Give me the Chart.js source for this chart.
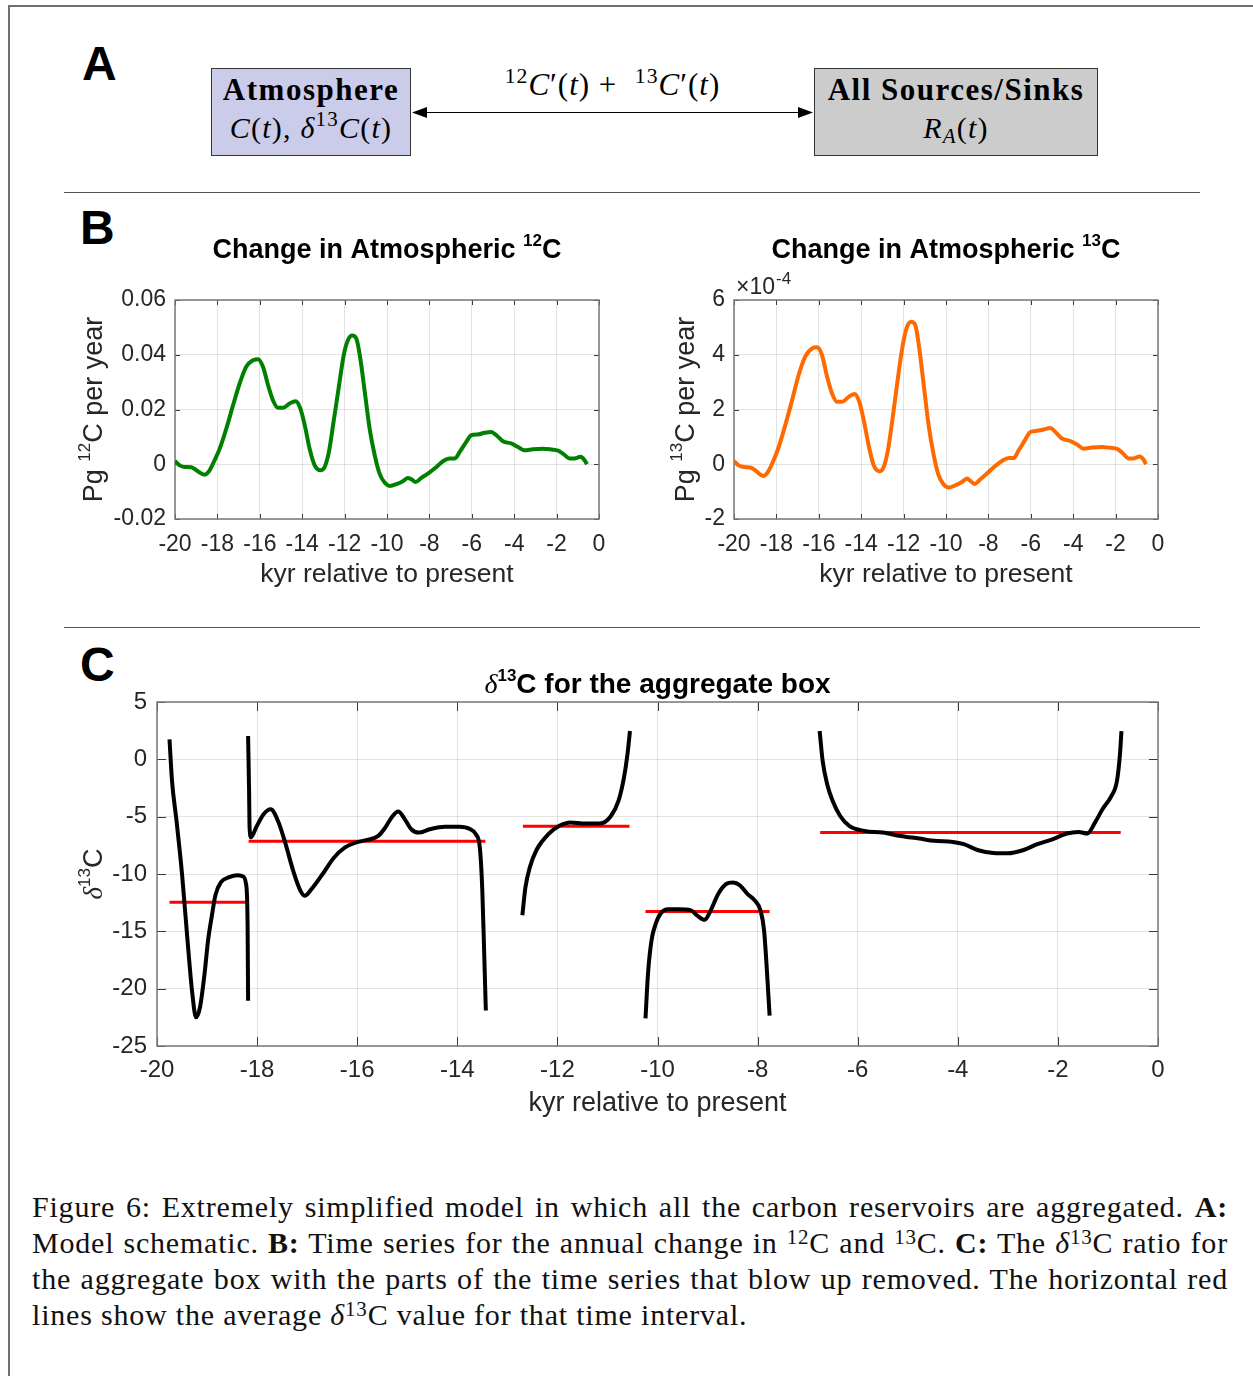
<!DOCTYPE html>
<html>
<head>
<meta charset="utf-8">
<script src="https://cdn.jsdelivr.net/npm/chart.js@4.4.0/dist/chart.umd.min.js"></script>
<style>
  html, body { margin: 0; padding: 0; background: #fff; }
  #page { position: relative; width: 1253px; height: 1376px; overflow: hidden; background: #fff; font-family: 'Liberation Sans', Arial, sans-serif; }
  .frame { position: absolute; left: 8px; top: 5px; width: 1300px; height: 1400px; border-top: 2px solid #707070; border-left: 2px solid #707070; }
  .rule { position: absolute; left: 64px; width: 1136px; height: 0; border-top: 1.5px solid #555; }
  .letter { position: absolute; font: bold 48px/48px 'Liberation Sans', Arial, sans-serif; color: #000; }
  .box { position: absolute; top: 68px; height: 88px; border: 1px solid #333; box-sizing: border-box; font-family: 'Liberation Serif', serif; color: #000; }
  .box .l1 { position: absolute; left: 0; right: 0; top: 4px; text-align: center; font-weight: bold; font-size: 31px; line-height: 34px; letter-spacing: 1.5px; }
  .box .l2 { position: absolute; left: 0; right: 0; top: 42px; text-align: center; font-size: 30px; line-height: 34px; letter-spacing: 1.2px; }
  .math { font-family: 'Liberation Serif', serif; }
  .math sup { font-size: 0.7em; vertical-align: 0.55em; line-height: 0; font-style: normal; }
  .math sub { font-size: 0.7em; vertical-align: -0.25em; line-height: 0; }
  #flux { position: absolute; left: 412px; width: 401px; top: 68px; text-align: center; font-size: 31px; line-height: 34px; letter-spacing: 1px; }
  #arrow { position: absolute; left: 410px; top: 102px; }
  .chart { position: absolute; }
  .chart canvas { display: block; }
  #caption { position: absolute; left: 32px; top: 1189px; width: 1196px; font-family: 'Liberation Serif', serif; font-size: 30px; letter-spacing: 0.8px; color: #111; }
  #caption div { height: 36px; line-height: 36px; white-space: nowrap; }
  #caption .j { text-align: justify; text-align-last: justify; }
  #caption sup { font-size: 0.7em; vertical-align: 0.45em; line-height: 0; }
</style>
</head>
<body>
<div id="page">
  <div class="frame"></div>

  <!-- panel A: schematic -->
  <div class="letter" style="left:82px; top:40px;">A</div>
  <div class="box" style="left:211px; width:200px; background:#cbcbea;">
    <div class="l1">Atmosphere</div>
    <div class="l2 math"><i>C</i>(<i>t</i>), <i>δ</i><sup>13</sup><i>C</i>(<i>t</i>)</div>
  </div>
  <div class="box" style="left:814px; width:284px; background:#cccccc;">
    <div class="l1">All Sources/Sinks</div>
    <div class="l2 math"><i>R</i><sub><i>A</i></sub>(<i>t</i>)</div>
  </div>
  <div id="flux" class="math"><sup>12</sup><i>C</i>′(<i>t</i>) + &nbsp;<sup>13</sup><i>C</i>′(<i>t</i>)</div>
  <svg id="arrow" width="406" height="22" viewBox="0 0 406 22">
    <line x1="14" y1="10.5" x2="390" y2="10.5" stroke="#000" stroke-width="1.2"/>
    <polygon points="2,10.5 17,5 17,16" fill="#000"/>
    <polygon points="403,10.5 388,5 388,16" fill="#000"/>
  </svg>

  <div class="rule" style="top:192px;"></div>

  <!-- panel B -->
  <div class="letter" style="left:80px; top:204px;">B</div>
  <div class="chart" style="left:60px; top:220px;"><canvas id="c12" width="560" height="380" style="width:560px;height:380px;"></canvas></div>
  <div class="chart" style="left:620px; top:220px;"><canvas id="c13" width="560" height="380" style="width:560px;height:380px;"></canvas></div>

  <div class="rule" style="top:627px;"></div>

  <!-- panel C -->
  <div class="letter" style="left:80px; top:641px;">C</div>
  <div class="chart" style="left:60px; top:655px;"><canvas id="cDelta" width="1140" height="470" style="width:1140px;height:470px;"></canvas></div>

  <div id="caption">
    <div class="j">Figure 6: Extremely simplified model in which all the carbon reservoirs are aggregated. <b>A:</b></div>
    <div class="j">Model schematic. <b>B:</b> Time series for the annual change in <sup>12</sup>C and <sup>13</sup>C. <b>C:</b> The <i>δ</i><sup>13</sup>C ratio for</div>
    <div class="j">the aggregate box with the parts of the time series that blow up removed. The horizontal red</div>
    <div>lines show the average <i>δ</i><sup>13</sup>C value for that time interval.</div>
  </div>
</div>

<script>
// --- panel B data: annual change in atmospheric 12C and 13C ---
const kyrB = [-20, -19.78, -19.54, -19.23, -18.99, -18.76, -18.6, -18.4, -18.13, -17.89,
  -17.58, -17.26, -16.95, -16.64, -16.32, -16.08, -15.85, -15.61, -15.38, -15.14,
  -14.91, -14.59, -14.31, -14.09, -13.88, -13.65, -13.41, -13.14, -12.94, -12.74,
  -12.52, -12.26, -12.04, -11.84, -11.64, -11.45, -11.26, -11.05, -10.82, -10.58,
  -10.35, -10.11, -9.87, -9.56, -9.25, -9.01, -8.85, -8.65, -8.38, -8.07,
  -7.67, -7.36, -7.04, -6.81, -6.57, -6.26, -6.02, -5.71, -5.39, -5.08,
  -4.84, -4.53, -4.14, -3.82, -3.51, -3.11, -2.64, -2.25, -1.93, -1.7,
  -1.38, -1.15, -0.88, -0.68, -0.57];

// Pg 12C per year
const d12C = [0.0012, -0.0004, -0.001, -0.0011, -0.0022, -0.0034, -0.0038, -0.0026, 0.0015, 0.0057,
  0.013, 0.0216, 0.0295, 0.0356, 0.038, 0.0384, 0.0356, 0.0289, 0.0234, 0.0206,
  0.0206, 0.0222, 0.023, 0.0204, 0.0143, 0.0057, -0.0004, -0.0022, -0.001, 0.0045,
  0.0155, 0.0289, 0.0399, 0.0454, 0.047, 0.046, 0.0387, 0.0265, 0.013, 0.0033,
  -0.0034, -0.0067, -0.0079, -0.0073, -0.0062, -0.005, -0.0055, -0.0065, -0.005, -0.0034,
  -0.001, 0.0011, 0.0021, 0.0021, 0.0045, 0.0082, 0.0106, 0.0109, 0.0115, 0.0118,
  0.0106, 0.0084, 0.0076, 0.0063, 0.0051, 0.0055, 0.0057, 0.0054, 0.005, 0.0039,
  0.0021, 0.0021, 0.0027, 0.0015, 0.0];

// Pg 13C per year, in units of 1e-4
const d13C = [0.12, -0.04, -0.1, -0.12, -0.22, -0.38, -0.43, -0.28, 0.15, 0.63,
  1.43, 2.34, 3.26, 3.93, 4.23, 4.27, 3.99, 3.2, 2.59, 2.28,
  2.28, 2.46, 2.57, 2.28, 1.61, 0.7, -0.04, -0.26, -0.1, 0.51,
  1.67, 3.2, 4.35, 5.02, 5.21, 5.09, 4.23, 2.89, 1.43, 0.33,
  -0.4, -0.74, -0.85, -0.77, -0.65, -0.52, -0.61, -0.72, -0.55, -0.34,
  -0.06, 0.12, 0.23, 0.23, 0.51, 0.9, 1.18, 1.22, 1.27, 1.32,
  1.18, 0.94, 0.85, 0.72, 0.57, 0.61, 0.63, 0.6, 0.56, 0.43,
  0.21, 0.21, 0.28, 0.17, 0.0];

const xTicksB = [-20, -18, -16, -14, -12, -10, -8, -6, -4, -2, 0];
const yTicks12 = [-0.02, 0, 0.02, 0.04, 0.06];
const yTicks13 = [-2, 0, 2, 4, 6];

// --- panel C data: delta13C pieces (kyr, permil) ---
const deltaSeg1 = [[-19.75, 1.74], [-19.7, -1.89], [-19.61, -5.37], [-19.5, -10.0], [-19.39, -15.8],
  [-19.3, -20.2], [-19.22, -22.5], [-19.14, -21.6],
  [-19.05, -18.7], [-18.98, -15.8], [-18.91, -13.8], [-18.83, -11.8], [-18.72, -10.7],
  [-18.57, -10.3], [-18.39, -10.1], [-18.28, -10.2], [-18.22, -10.9], [-18.19, -14.4], [-18.18, -21.05]];
const deltaSeg2 = [[-18.18, 2.03], [-18.16, -2.76], [-18.15, -5.95], [-18.12, -6.8], [-18.02, -5.95],
  [-17.87, -4.79], [-17.73, -4.36], [-17.58, -5.4], [-17.43, -7.4], [-17.28, -9.7],
  [-17.13, -11.5], [-17.05, -11.9], [-16.91, -11.3], [-16.69, -10.0], [-16.47, -8.6],
  [-16.25, -7.7], [-16.03, -7.26], [-15.8, -7.03], [-15.58, -6.68], [-15.44, -5.95],
  [-15.29, -4.94], [-15.18, -4.56], [-15.07, -5.08], [-14.92, -6.1], [-14.77, -6.39],
  [-14.55, -6.1], [-14.25, -5.89], [-13.96, -5.89], [-13.74, -6.1], [-13.63, -6.53],
  [-13.55, -7.69], [-13.5, -11.47], [-13.46, -17.3], [-13.43, -21.9]];
const deltaSeg3 = [[-12.7, -13.6], [-12.64, -11.2], [-12.55, -9.4], [-12.41, -7.84], [-12.18, -6.53],
  [-11.96, -5.8], [-11.74, -5.5], [-11.45, -5.6], [-11.15, -5.6], [-10.93, -4.94],
  [-10.78, -3.63], [-10.67, -1.6], [-10.6, 0.44], [-10.55, 2.47]];
const deltaSeg4 = [[-10.24, -22.6], [-10.19, -18.7], [-10.12, -15.8], [-10.04, -14.4], [-9.93, -13.4],
  [-9.79, -13.07], [-9.56, -13.07], [-9.34, -13.15], [-9.2, -13.65], [-9.06, -14.0],
  [-8.94, -13.2], [-8.79, -11.76], [-8.64, -10.9], [-8.49, -10.74], [-8.35, -11.0],
  [-8.2, -11.76], [-8.05, -12.34], [-7.94, -13.2], [-7.87, -14.95], [-7.81, -18.7], [-7.76, -22.36]];
const deltaSeg5 = [[-6.76, 2.47], [-6.7, -0.15], [-6.61, -2.18], [-6.5, -3.63], [-6.35, -4.94],
  [-6.17, -5.8], [-5.87, -6.24], [-5.5, -6.39], [-5.14, -6.68], [-4.77, -6.91],
  [-4.47, -7.11], [-4.1, -7.2], [-3.88, -7.4], [-3.59, -7.93], [-3.29, -8.16],
  [-3.0, -8.19], [-2.7, -7.93], [-2.41, -7.4], [-2.11, -6.97], [-1.82, -6.47],
  [-1.59, -6.33], [-1.41, -6.47], [-1.26, -5.52], [-1.11, -4.36], [-0.93, -3.19],
  [-0.82, -1.89], [-0.76, 0.44], [-0.73, 2.47]];

// average delta13C for each interval
const meanStart = [-19.75, -18.17, -12.69, -10.24, -6.75];
const meanEnd   = [-18.2, -13.44, -10.56, -7.76, -0.745];
const meanValue = [-12.46, -7.14, -5.84, -13.27, -6.39];

const xTicksC = [-20, -18, -16, -14, -12, -10, -8, -6, -4, -2, 0];
const yTicksC = [-25, -20, -15, -10, -5, 0, 5];

const tickColor = '#262626';
const gridColor = 'rgba(38,38,38,0.13)';
const fontFamily = '"Liberation Sans", Arial, sans-serif';
const serifFamily = '"Liberation Serif", serif';

// MATLAB-style box with inward ticks on all four sides
const boxTicks = {
  id: 'boxTicks',
  beforeDatasetsDraw(chart, args, opts) {
    const { ctx, chartArea: a, scales } = chart;
    const len = opts.length || 5;
    ctx.save();
    ctx.strokeStyle = '#3a3a3a';
    ctx.lineWidth = 1;
    ctx.beginPath();
    scales.x.ticks.forEach(t => {
      const px = Math.round(scales.x.getPixelForValue(t.value)) + 0.5;
      ctx.moveTo(px, a.bottom); ctx.lineTo(px, a.bottom - len);
      ctx.moveTo(px, a.top); ctx.lineTo(px, a.top + len);
    });
    scales.y.ticks.forEach(t => {
      const py = Math.round(scales.y.getPixelForValue(t.value)) + 0.5;
      ctx.moveTo(a.left, py); ctx.lineTo(a.left + len, py);
      ctx.moveTo(a.right, py); ctx.lineTo(a.right - len, py);
    });
    ctx.stroke();
    ctx.strokeStyle = '#7a7a7a';
    ctx.lineWidth = 1.5;
    ctx.strokeRect(a.left, a.top, a.right - a.left, a.bottom - a.top);
    ctx.restore();
  }
};

// text with superscripts, centred on (cx, cy) with the cap-height centre on cy
function drawRich(ctx, parts, cx, cy, rot, base) {
  ctx.save();
  ctx.translate(cx, cy);
  ctx.rotate(rot);
  ctx.fillStyle = base.color;
  ctx.textBaseline = 'alphabetic';
  ctx.textAlign = 'left';
  const fontOf = p => (p.italic ? 'italic ' : '') + (p.weight || base.weight || 'normal') + ' ' +
    (p.sup ? Math.round(base.size * 0.62) : base.size) + 'px ' + (p.family || base.family);
  let total = 0;
  const widths = parts.map(p => { ctx.font = fontOf(p); const w = ctx.measureText(p.t).width; total += w; return w; });
  let x = -total / 2;
  const baseY = base.size * 0.365;
  parts.forEach((p, i) => {
    ctx.font = fontOf(p);
    ctx.fillText(p.t, x, p.sup ? baseY - base.size * 0.45 : baseY);
    x += widths[i];
  });
  ctx.restore();
}

function titlesPlugin(cfg) {
  return {
    id: 'richTitles',
    afterDraw(chart) {
      const { ctx, chartArea: a } = chart;
      drawRich(ctx, cfg.title, (a.left + a.right) / 2, cfg.titleY, 0,
        { size: cfg.titleSize, weight: 'bold', family: fontFamily, color: '#000' });
      drawRich(ctx, cfg.yTitle, cfg.yTitleX, (a.top + a.bottom) / 2, -Math.PI / 2,
        { size: 27, weight: 'normal', family: fontFamily, color: tickColor });
    }
  };
}

// the "x10^-4" multiplier above the 13C axis
const expLabel = {
  id: 'expLabel',
  afterDraw(chart) {
    const { ctx, chartArea: a } = chart;
    ctx.save();
    ctx.fillStyle = '#262626';
    ctx.textBaseline = 'alphabetic';
    ctx.font = '23px ' + fontFamily;
    const base = a.top - 6;
    ctx.fillText('×10', a.left + 2, base);
    const w = ctx.measureText('×10').width;
    ctx.font = '17px ' + fontFamily;
    ctx.fillText('-4', a.left + 2 + w + 1, base - 10);
    ctx.restore();
  }
};

function fixedTicks(values) {
  return scale => { scale.ticks = values.map(v => ({ value: v })); };
}

function panelB(id, xs, ys, color, yTicks, yFmt, iso, yTitleX, rightPad, yWidth, extraPlugins) {
  return new Chart(document.getElementById(id), {
    type: 'line',
    data: {
      datasets: [{
        data: xs.map((x, i) => ({ x: x, y: ys[i] })),
        borderColor: color,
        borderWidth: 4,
        pointRadius: 0,
        fill: false,
        cubicInterpolationMode: 'monotone'
      }]
    },
    options: {
      responsive: false,
      animation: false,
      devicePixelRatio: 1,
      layout: { padding: { left: 0, top: 80, right: rightPad, bottom: 0 } },
      plugins: {
        legend: { display: false },
        tooltip: { enabled: false },
        title: { display: false },
        boxTicks: { length: 5 }
      },
      scales: {
        x: {
          type: 'linear', min: -20, max: 0,
          afterBuildTicks: fixedTicks(xTicksB),
          afterFit: s => { s.height = 81; },
          grid: { color: gridColor, drawTicks: false },
          border: { display: false },
          ticks: { color: tickColor, padding: 12, maxRotation: 0, autoSkip: false, font: { family: fontFamily, size: 23 } },
          title: { display: true, text: 'kyr relative to present', color: tickColor, font: { family: fontFamily, size: 26.5 }, padding: { top: 0, bottom: 9.2 } }
        },
        y: {
          type: 'linear', min: yTicks[0], max: yTicks[yTicks.length - 1],
          afterBuildTicks: fixedTicks(yTicks),
          afterFit: s => { s.width = yWidth; },
          grid: { color: gridColor, drawTicks: false },
          border: { display: false },
          ticks: { color: tickColor, padding: 9, autoSkip: false, font: { family: fontFamily, size: 23 }, callback: yFmt },
          title: { display: false }
        }
      }
    },
    plugins: [boxTicks, titlesPlugin({
      title: [{ t: 'Change in Atmospheric ' }, { t: iso, sup: true }, { t: 'C' }],
      titleY: 28,
      titleSize: 27,
      yTitle: [{ t: 'Pg ' }, { t: iso, sup: true }, { t: 'C per year' }],
      yTitleX: yTitleX
    })].concat(extraPlugins)
  });
}

panelB('c12', kyrB, d12C, '#008000', yTicks12,
  v => { const r = Math.round(v * 100) / 100; return r === 0 ? '0' : r.toFixed(2); },
  '12', 32, 21, 115, []);

panelB('c13', kyrB, d13C, '#ff6a00', yTicks13,
  v => String(Math.round(v)),
  '13', 64, 22, 114, [expLabel]);

// panel C
const blackSegs = [deltaSeg1, deltaSeg2, deltaSeg3, deltaSeg4, deltaSeg5].map(seg => ({
  data: seg.map(p => ({ x: p[0], y: p[1] })),
  borderColor: '#000',
  borderWidth: 4,
  pointRadius: 0,
  fill: false,
  cubicInterpolationMode: 'monotone'
}));
const meanLines = meanValue.map((v, i) => ({
  data: [{ x: meanStart[i], y: v }, { x: meanEnd[i], y: v }],
  borderColor: '#ff0000',
  borderWidth: 3,
  pointRadius: 0,
  fill: false
}));

new Chart(document.getElementById('cDelta'), {
  type: 'line',
  data: { datasets: blackSegs.concat(meanLines) },
  options: {
    responsive: false,
    animation: false,
    devicePixelRatio: 1,
    layout: { padding: { left: 0, top: 47, right: 42, bottom: 0 } },
    plugins: {
      legend: { display: false },
      tooltip: { enabled: false },
      title: { display: false },
      boxTicks: { length: 9 }
    },
    scales: {
      x: {
        type: 'linear', min: -20, max: 0,
        afterBuildTicks: fixedTicks(xTicksC),
        afterFit: s => { s.height = 79; },
        grid: { color: gridColor, drawTicks: false },
        border: { display: false },
        ticks: { color: tickColor, padding: 9.6, maxRotation: 0, autoSkip: false, font: { family: fontFamily, size: 24 } },
        title: { display: true, text: 'kyr relative to present', color: tickColor, font: { family: fontFamily, size: 27 }, padding: { top: 0, bottom: 5 } }
      },
      y: {
        type: 'linear', min: -25, max: 5,
        afterBuildTicks: fixedTicks(yTicksC),
        afterFit: s => { s.width = 97; },
        grid: { color: gridColor, drawTicks: false },
        border: { display: false },
        ticks: { color: tickColor, padding: 10, autoSkip: false, font: { family: fontFamily, size: 24 } },
        title: { display: false }
      }
    }
  },
  plugins: [boxTicks, titlesPlugin({
    title: [{ t: 'δ', italic: true, weight: 'normal', family: serifFamily }, { t: '13', sup: true }, { t: 'C for the aggregate box' }],
    titleY: 28,
    titleSize: 28,
    yTitle: [{ t: 'δ', italic: true, family: serifFamily }, { t: '13', sup: true }, { t: 'C' }],
    yTitleX: 32
  })]
});
</script>
</body>
</html>
